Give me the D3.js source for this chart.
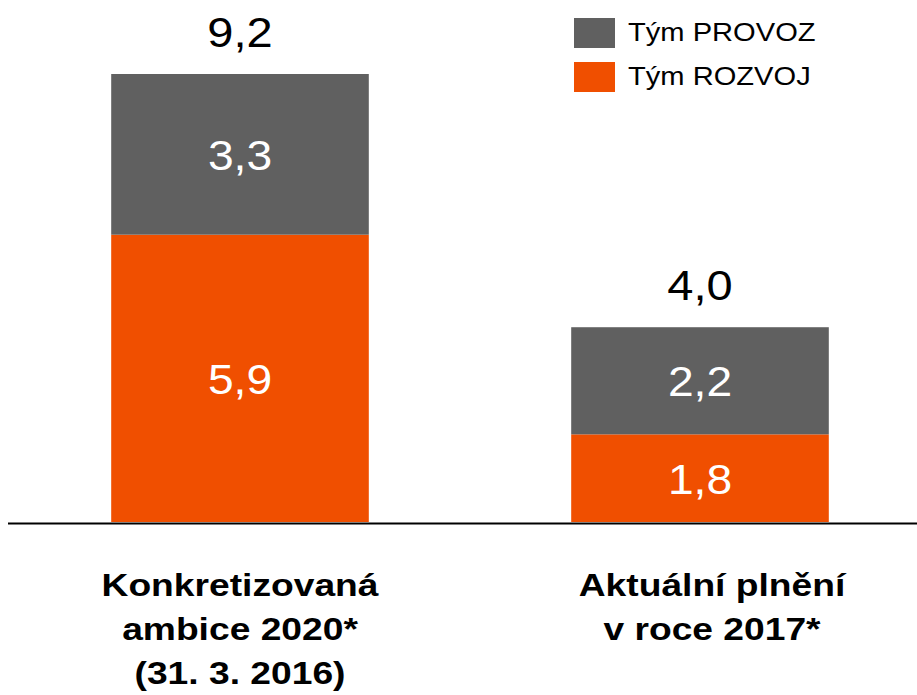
<!DOCTYPE html>
<html>
<head>
<meta charset="utf-8">
<script src="https://cdn.jsdelivr.net/npm/d3@7"></script>
<style>
  body { margin: 0; background: #fff; }
  svg { display: block; font-family: Arial, "Liberation Sans", sans-serif; }
</style>
</head>
<body>
<svg id="chart" width="917" height="695"></svg>
<script>
const categories = [
  ["Konkretizovaná", "ambice 2020*", "(31. 3. 2016)"],
  ["Aktuální plnění", "v roce 2017*"]
];
const rozvoj = [5.9, 1.8];
const provoz = [3.3, 2.2];
const totals = [9.2, 4.0];
const seriesNames = ["Tým PROVOZ", "Tým ROZVOJ"];
const colors = {provoz: "#606060", rozvoj: "#F04F00"};

const fmt = v => d3.format(".1f")(v).replace(".", ",");

// the source text is a bit wider than Liberation Sans, so stretch it horizontally
const placeText = (sel, cx, cy, sx) => sel.attr("transform", `translate(${cx},${cy}) scale(${sx},1)`);

const svg = d3.select("#chart");
const baseY = 522, topY = 74;
const x = d3.scaleBand().domain([0, 1]).range([10, 930]).paddingInner(0.44).paddingOuter(0.22);
const y = d3.scaleLinear().domain([0, d3.max(totals)]).range([baseY, topY]);
const cx = i => x(i) + x.bandwidth() / 2;

const stacked = d3.stack().keys(["rozvoj", "provoz"])(
  rozvoj.map((r, i) => ({i, rozvoj: r, provoz: provoz[i]}))
);

stacked.forEach(layer => {
  const g = svg.append("g");
  g.selectAll("rect").data(layer).join("rect")
    .attr("x", d => x(d.data.i))
    .attr("width", x.bandwidth())
    .attr("y", d => y(d[1]))
    .attr("height", d => y(d[0]) - y(d[1]))
    .attr("fill", colors[layer.key]);
  g.selectAll("text").data(layer).join("text")
    .each(function(d) {
      placeText(d3.select(this), cx(d.data.i), (y(d[0]) + y(d[1])) / 2, 1.1);
    })
    .attr("dy", "0.37em")
    .attr("text-anchor", "middle")
    .attr("fill", "#fff")
    .style("font-size", "42px")
    .text(d => fmt(d[1] - d[0]));
});

// totals above bars
svg.selectAll("text.total").data(totals).join("text")
  .attr("class", "total")
  .each(function(d, i) { placeText(d3.select(this), cx(i), y(d) - 27, 1.12); })
  .attr("text-anchor", "middle")
  .attr("fill", "#000")
  .style("font-size", "42px")
  .text(d => fmt(d));

// baseline
svg.append("line")
  .attr("x1", 8).attr("x2", 917)
  .attr("y1", baseY + 1.5).attr("y2", baseY + 1.5)
  .attr("stroke", "#000").attr("stroke-width", 2);

// category labels
const labelShift = [0, 12];
categories.forEach((lines, i) => {
  lines.forEach((ln, j) => {
    svg.append("text")
      .call(placeText, cx(i) + labelShift[i], 596 + j * 44, 1.2)
      .attr("text-anchor", "middle")
      .style("font-size", "31px")
      .style("font-weight", "bold")
      .attr("fill", "#000")
      .text(ln);
  });
});

// legend
const legend = svg.append("g").attr("transform", "translate(574,18)");
const legendColors = [colors.provoz, colors.rozvoj];
seriesNames.forEach((name, i) => {
  legend.append("rect")
    .attr("x", 0).attr("y", i * 44)
    .attr("width", 41).attr("height", 30)
    .attr("fill", legendColors[i]);
  legend.append("text")
    .call(placeText, 54, i * 44 + 23, 1.12)
    .style("font-size", "26px")
    .attr("fill", "#000")
    .text(name);
});
</script>
</body>
</html>
